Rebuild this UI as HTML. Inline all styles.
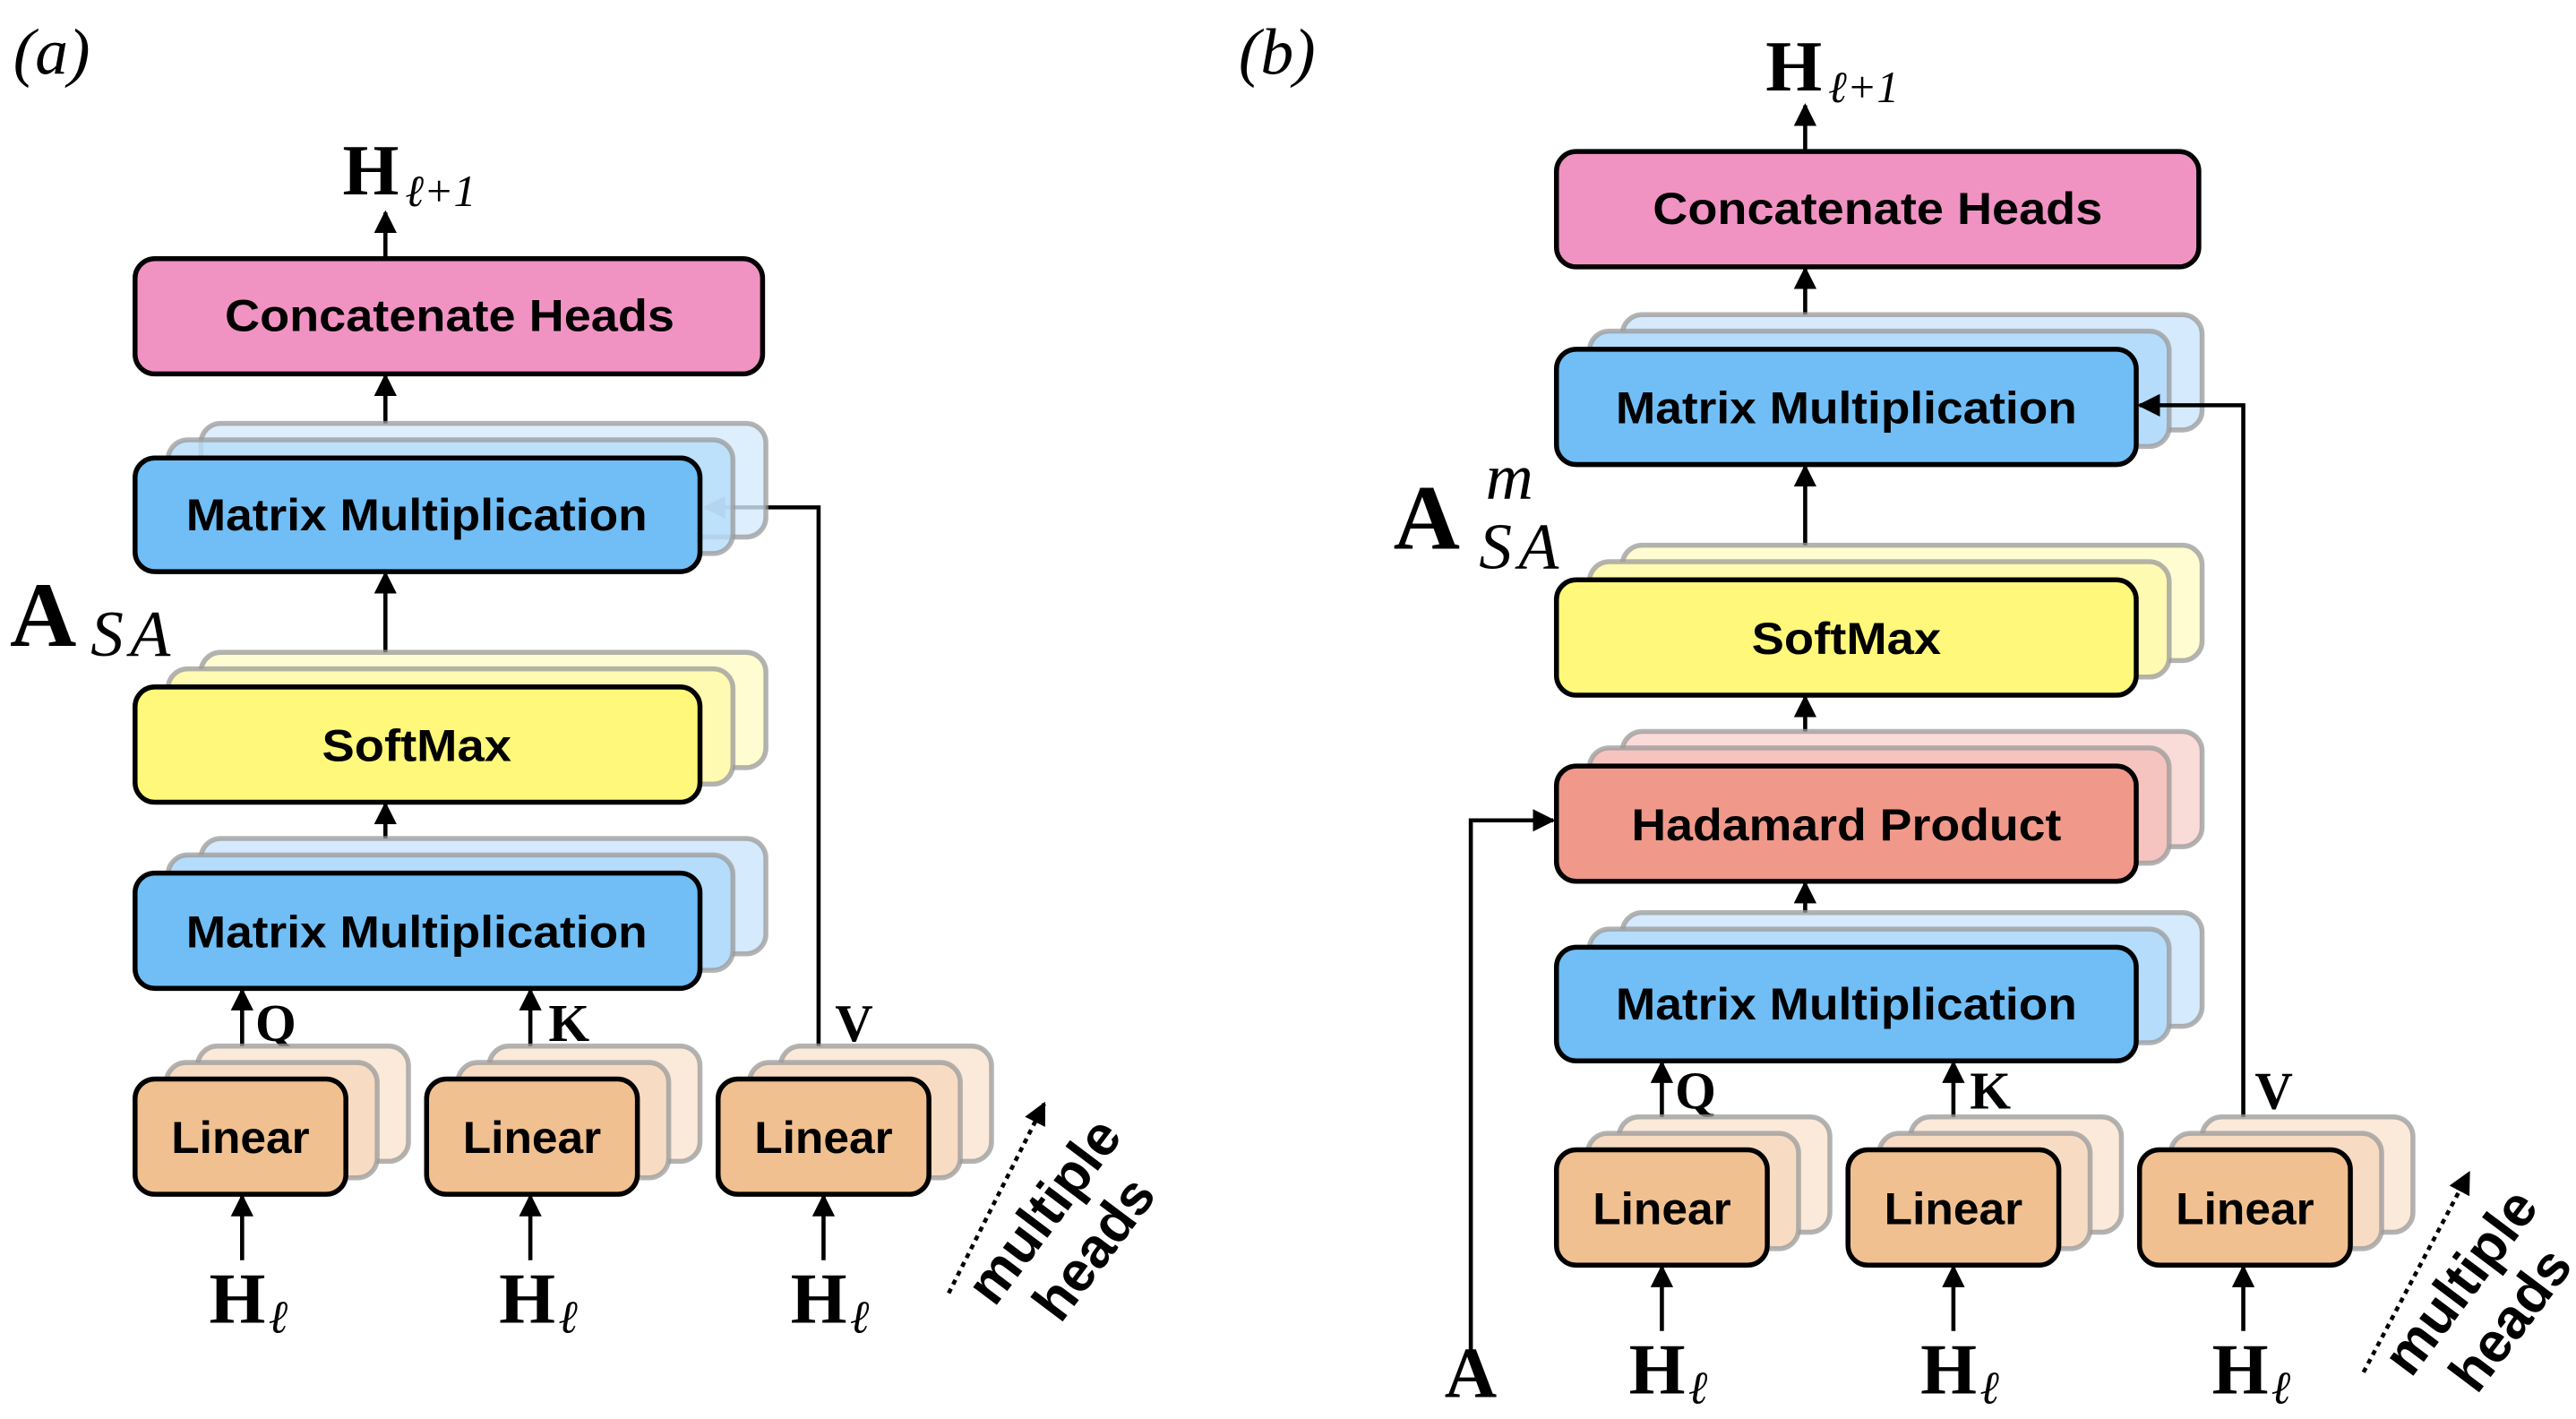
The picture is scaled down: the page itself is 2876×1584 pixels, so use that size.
<!DOCTYPE html>
<html><head><meta charset="utf-8"><style>
html,body{margin:0;padding:0;background:#fff;}
svg{display:block;}
.bt{font-family:"Liberation Sans",sans-serif;font-weight:bold;font-size:27px;fill:#000;}
.mh{font-family:"Liberation Sans",sans-serif;font-weight:bold;font-size:34px;fill:#000;}
.sb{font-family:"Liberation Serif",serif;font-weight:bold;fill:#000;}
.si{font-family:"Liberation Serif",serif;font-style:italic;fill:#000;}
.s2{stroke:#999;stroke-opacity:.75;stroke-width:3;}
.m{stroke:#000;stroke-width:3;}
.ln{stroke:#000;stroke-width:2.5;fill:none;}
</style></head><body>
<svg width="2876" height="1584" viewBox="0 0 1564 861.4" preserveAspectRatio="none" xmlns="http://www.w3.org/2000/svg">
<defs>
<marker id="ah" viewBox="0 0 10 10" refX="9" refY="5" markerWidth="5.5" markerHeight="5.5" orient="auto" markerUnits="strokeWidth"><path d="M0,0 L10,5 L0,10 z" fill="#000"/></marker>
</defs>

<!-- ===== Panel (a) ===== -->
<text x="8" y="45" class="si" font-size="40">(a)</text>
<text x="208" y="118" class="sb" font-size="44">H</text><text x="246" y="125" class="si" font-size="27">ℓ+1</text>
<line x1="234" y1="157" x2="234" y2="129" class="ln" marker-end="url(#ah)"/>

<rect x="82" y="157" width="381" height="70" rx="12" fill="#f093c3" class="m"/>
<text x="273" y="201" class="bt" text-anchor="middle" textLength="273" lengthAdjust="spacingAndGlyphs">Concatenate Heads</text>
<line x1="234" y1="257" x2="234" y2="228" class="ln" marker-end="url(#ah)"/>

<polyline points="497,640 497,308 428,308" class="ln" marker-end="url(#ah)"/>

<rect x="122" y="257" width="343" height="69" rx="12" fill="#d5eafc" fill-opacity=".8" class="s2"/>
<rect x="102" y="267" width="343" height="69" rx="12" fill="#b5dcfa" fill-opacity=".8" class="s2"/>
<rect x="82" y="278" width="343" height="69" rx="12" fill="#70bef5" class="m"/>
<text x="253" y="322" class="bt" text-anchor="middle" textLength="280" lengthAdjust="spacingAndGlyphs">Matrix Multiplication</text>
<line x1="234" y1="417" x2="234" y2="348" class="ln" marker-end="url(#ah)"/>

<text x="6" y="392" class="sb" font-size="56">A</text><text x="55" y="398" class="si" font-size="40" letter-spacing="4">SA</text>

<rect x="122" y="396" width="343" height="70" rx="12" fill="#fffcd2" class="s2"/>
<rect x="102" y="406" width="343" height="70" rx="12" fill="#fffab2" class="s2"/>
<rect x="82" y="417" width="343" height="70" rx="12" fill="#fff87a" class="m"/>
<text x="253" y="462" class="bt" text-anchor="middle" textLength="115" lengthAdjust="spacingAndGlyphs">SoftMax</text>
<line x1="234" y1="530" x2="234" y2="488" class="ln" marker-end="url(#ah)"/>

<rect x="122" y="509" width="343" height="70" rx="12" fill="#d5eafc" class="s2"/>
<rect x="102" y="519" width="343" height="70" rx="12" fill="#b5dcfa" class="s2"/>
<rect x="82" y="530" width="343" height="70" rx="12" fill="#70bef5" class="m"/>
<text x="253" y="575" class="bt" text-anchor="middle" textLength="280" lengthAdjust="spacingAndGlyphs">Matrix Multiplication</text>

<line x1="147" y1="640" x2="147" y2="601" class="ln" marker-end="url(#ah)"/>
<line x1="322" y1="640" x2="322" y2="601" class="ln" marker-end="url(#ah)"/>
<text x="155" y="632" class="sb" font-size="32">Q</text>
<text x="333" y="632" class="sb" font-size="32">K</text>
<text x="507" y="632" class="sb" font-size="32">V</text>

<g>
<rect x="120" y="635" width="128" height="70" rx="12" fill="#fbe9da" class="s2"/>
<rect x="101" y="645" width="128" height="70" rx="12" fill="#f7dcc3" class="s2"/>
<rect x="82" y="655" width="128" height="70" rx="12" fill="#f0c090" class="m"/>
<text x="146" y="700" class="bt" text-anchor="middle" textLength="84" lengthAdjust="spacingAndGlyphs">Linear</text>
</g>
<g>
<rect x="297" y="635" width="128" height="70" rx="12" fill="#fbe9da" class="s2"/>
<rect x="278" y="645" width="128" height="70" rx="12" fill="#f7dcc3" class="s2"/>
<rect x="259" y="655" width="128" height="70" rx="12" fill="#f0c090" class="m"/>
<text x="323" y="700" class="bt" text-anchor="middle" textLength="84" lengthAdjust="spacingAndGlyphs">Linear</text>
</g>
<g>
<rect x="474" y="635" width="128" height="70" rx="12" fill="#fbe9da" class="s2"/>
<rect x="455" y="645" width="128" height="70" rx="12" fill="#f7dcc3" class="s2"/>
<rect x="436" y="655" width="128" height="70" rx="12" fill="#f0c090" class="m"/>
<text x="500" y="700" class="bt" text-anchor="middle" textLength="84" lengthAdjust="spacingAndGlyphs">Linear</text>
</g>

<line x1="147" y1="765" x2="147" y2="726" class="ln" marker-end="url(#ah)"/>
<line x1="322" y1="765" x2="322" y2="726" class="ln" marker-end="url(#ah)"/>
<line x1="500" y1="765" x2="500" y2="726" class="ln" marker-end="url(#ah)"/>
<text x="127" y="803" class="sb" font-size="44">H</text><text x="163" y="809" class="si" font-size="28">ℓ</text>
<text x="303" y="803" class="sb" font-size="44">H</text><text x="339" y="809" class="si" font-size="28">ℓ</text>
<text x="480" y="803" class="sb" font-size="44">H</text><text x="516" y="809" class="si" font-size="28">ℓ</text>

<line x1="576" y1="785" x2="634" y2="670" stroke="#000" stroke-width="2.5" stroke-dasharray="3 3" marker-end="url(#ah)"/>
<g transform="translate(643,742) rotate(-53)">
<text x="0" y="0" class="mh" text-anchor="middle">multiple</text>
<text x="0" y="38" class="mh" text-anchor="middle">heads</text>
</g>

<!-- ===== Panel (b) ===== -->
<text x="752" y="45" class="si" font-size="40">(b)</text>
<text x="1072" y="55" class="sb" font-size="44">H</text><text x="1110" y="62" class="si" font-size="27">ℓ+1</text>
<line x1="1096" y1="92" x2="1096" y2="64" class="ln" marker-end="url(#ah)"/>

<rect x="945" y="92" width="390" height="70" rx="12" fill="#f093c3" class="m"/>
<text x="1140" y="136" class="bt" text-anchor="middle" textLength="273" lengthAdjust="spacingAndGlyphs">Concatenate Heads</text>
<line x1="1096" y1="192" x2="1096" y2="163" class="ln" marker-end="url(#ah)"/>

<rect x="985" y="191" width="352" height="70" rx="12" fill="#d5eafc" class="s2"/>
<rect x="965" y="201" width="352" height="70" rx="12" fill="#b5dcfa" class="s2"/>
<rect x="945" y="212" width="352" height="70" rx="12" fill="#70bef5" class="m"/>
<text x="1121" y="257" class="bt" text-anchor="middle" textLength="280" lengthAdjust="spacingAndGlyphs">Matrix Multiplication</text>
<polyline points="1362,685 1362,246 1299,246" class="ln" marker-end="url(#ah)"/>
<line x1="1096" y1="352" x2="1096" y2="283" class="ln" marker-end="url(#ah)"/>

<text x="846" y="333" class="sb" font-size="56">A</text><text x="902" y="303" class="si" font-size="40">m</text><text x="898" y="345" class="si" font-size="40" letter-spacing="4">SA</text>

<rect x="985" y="331" width="352" height="70" rx="12" fill="#fffcd2" class="s2"/>
<rect x="965" y="341" width="352" height="70" rx="12" fill="#fffab2" class="s2"/>
<rect x="945" y="352" width="352" height="70" rx="12" fill="#fff87a" class="m"/>
<text x="1121" y="397" class="bt" text-anchor="middle" textLength="115" lengthAdjust="spacingAndGlyphs">SoftMax</text>
<line x1="1096" y1="465" x2="1096" y2="423" class="ln" marker-end="url(#ah)"/>

<rect x="985" y="444" width="352" height="70" rx="12" fill="#f9dbd8" class="s2"/>
<rect x="965" y="454" width="352" height="70" rx="12" fill="#f5c4bf" class="s2"/>
<rect x="945" y="465" width="352" height="70" rx="12" fill="#f0998b" class="m"/>
<text x="1121" y="510" class="bt" text-anchor="middle" textLength="261" lengthAdjust="spacingAndGlyphs">Hadamard Product</text>
<polyline points="893,820 893,498 943,498" class="ln" marker-end="url(#ah)"/>
<line x1="1096" y1="575" x2="1096" y2="536" class="ln" marker-end="url(#ah)"/>

<rect x="985" y="554" width="352" height="69" rx="12" fill="#d5eafc" class="s2"/>
<rect x="965" y="564" width="352" height="69" rx="12" fill="#b5dcfa" class="s2"/>
<rect x="945" y="575" width="352" height="69" rx="12" fill="#70bef5" class="m"/>
<text x="1121" y="619" class="bt" text-anchor="middle" textLength="280" lengthAdjust="spacingAndGlyphs">Matrix Multiplication</text>

<line x1="1009" y1="685" x2="1009" y2="645" class="ln" marker-end="url(#ah)"/>
<line x1="1186" y1="685" x2="1186" y2="645" class="ln" marker-end="url(#ah)"/>
<text x="1017" y="673" class="sb" font-size="32">Q</text>
<text x="1196" y="673" class="sb" font-size="32">K</text>
<text x="1369" y="673" class="sb" font-size="32">V</text>

<g>
<rect x="983" y="678" width="128" height="70" rx="12" fill="#fbe9da" class="s2"/>
<rect x="964" y="688" width="128" height="70" rx="12" fill="#f7dcc3" class="s2"/>
<rect x="945" y="698" width="128" height="70" rx="12" fill="#f0c090" class="m"/>
<text x="1009" y="743" class="bt" text-anchor="middle" textLength="84" lengthAdjust="spacingAndGlyphs">Linear</text>
</g>
<g>
<rect x="1160" y="678" width="128" height="70" rx="12" fill="#fbe9da" class="s2"/>
<rect x="1141" y="688" width="128" height="70" rx="12" fill="#f7dcc3" class="s2"/>
<rect x="1122" y="698" width="128" height="70" rx="12" fill="#f0c090" class="m"/>
<text x="1186" y="743" class="bt" text-anchor="middle" textLength="84" lengthAdjust="spacingAndGlyphs">Linear</text>
</g>
<g>
<rect x="1337" y="678" width="128" height="70" rx="12" fill="#fbe9da" class="s2"/>
<rect x="1318" y="688" width="128" height="70" rx="12" fill="#f7dcc3" class="s2"/>
<rect x="1299" y="698" width="128" height="70" rx="12" fill="#f0c090" class="m"/>
<text x="1363" y="743" class="bt" text-anchor="middle" textLength="84" lengthAdjust="spacingAndGlyphs">Linear</text>
</g>

<line x1="1009" y1="808" x2="1009" y2="769" class="ln" marker-end="url(#ah)"/>
<line x1="1186" y1="808" x2="1186" y2="769" class="ln" marker-end="url(#ah)"/>
<line x1="1362" y1="808" x2="1362" y2="769" class="ln" marker-end="url(#ah)"/>
<text x="877" y="848" class="sb" font-size="44">A</text>
<text x="989" y="846" class="sb" font-size="44">H</text><text x="1025" y="852" class="si" font-size="28">ℓ</text>
<text x="1166" y="846" class="sb" font-size="44">H</text><text x="1202" y="852" class="si" font-size="28">ℓ</text>
<text x="1343" y="846" class="sb" font-size="44">H</text><text x="1379" y="852" class="si" font-size="28">ℓ</text>

<line x1="1435" y1="833" x2="1499" y2="712" stroke="#000" stroke-width="2.5" stroke-dasharray="3 3" marker-end="url(#ah)"/>
<g transform="translate(1503,785) rotate(-53)">
<text x="0" y="0" class="mh" text-anchor="middle">multiple</text>
<text x="0" y="38" class="mh" text-anchor="middle">heads</text>
</g>
</svg>
</body></html>
